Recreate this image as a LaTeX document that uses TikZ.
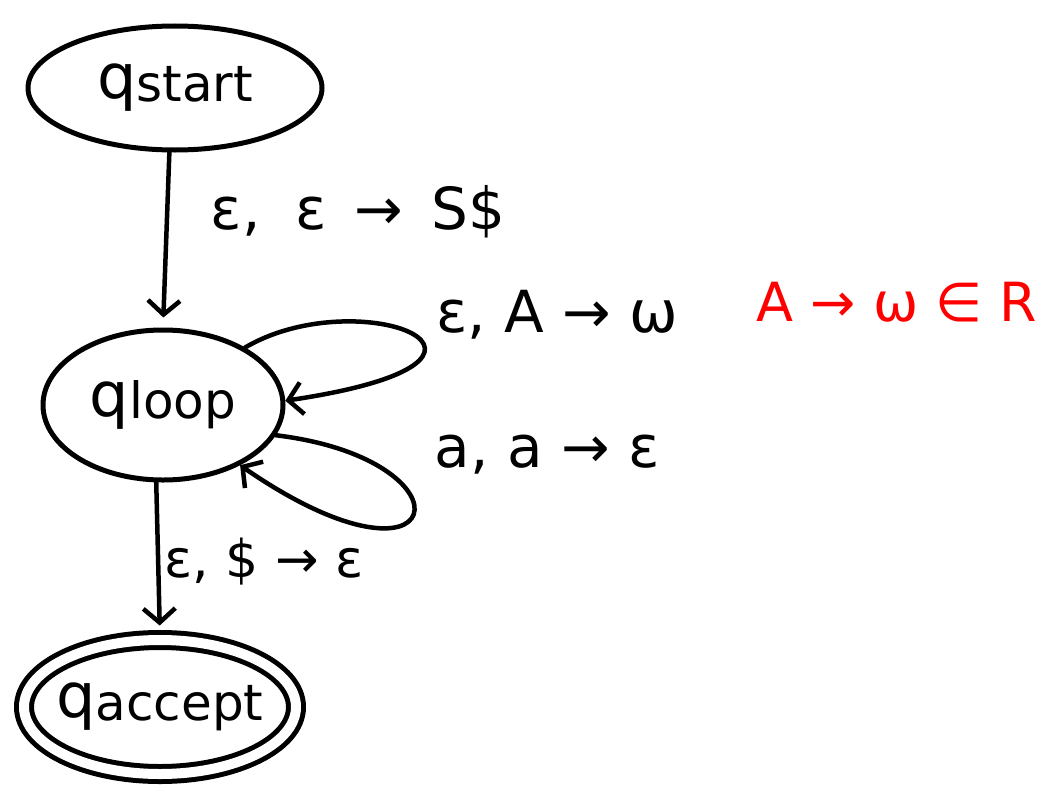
\documentclass[tikz,border=0pt]{standalone}
\usepackage{fontspec}
\setmainfont{DejaVu Sans}
\usetikzlibrary{arrows.meta,shapes.geometric}
\newcommand{\qsub}[1]{{\fontsize{62}{66}\selectfont q}\raisebox{-0.25em}{\fontsize{50}{56}\selectfont #1}}
\begin{document}
\begin{tikzpicture}[x=1pt,y=-1pt,
  line cap=round, line join=round,
  state/.style={draw, ellipse, line width=5pt, inner sep=0pt},
  edge/.style={line width=4.5pt, -{Straight Barb[length=14pt,width=32pt,line width=4.5pt]}},
  lbl/.style={font=\fontsize{58}{64}\selectfont, inner sep=0pt}]
\useasboundingbox[fill=white] (0,0) rectangle (1043,792);

% states
\node[state, minimum width=294pt, minimum height=124pt] (start) at (175,88) {\qsub{start}};
\node[state, minimum width=240pt, minimum height=150pt] (loop) at (163,405) {\qsub{loop}};
\node[state, double, double distance=10pt, inner sep=-14pt, minimum width=272pt, minimum height=134pt] (accept) at (160,707) {\qsub{accept}};

% transitions
\draw[edge, shorten >=10pt] (start.-95) -- (loop.north);
\draw[edge, shorten >=12pt] (loop.-95) -- (accept.north);
\draw[edge] (loop.35) .. controls (360,280) and (560,360) .. (loop.2);
\draw[edge] (loop.-15) .. controls (480,460) and (450,610) .. (loop.-38);

% labels
\node[lbl] (l1) at (358,212) {ε,\; ε \,→\, S\$};
\node[lbl] (l2) at (557,315) {ε, A → ω};
\node[lbl, text=red, font=\fontsize{54}{60}\selectfont] (l3) at (897,302) {A → ω ∈ R};
\node[lbl] (l4) at (547,455) {a, a → ε};
\node[lbl, font=\fontsize{52}{58}\selectfont] (l5) at (264,562) {ε, \$ → ε};
\end{tikzpicture}
\end{document}
